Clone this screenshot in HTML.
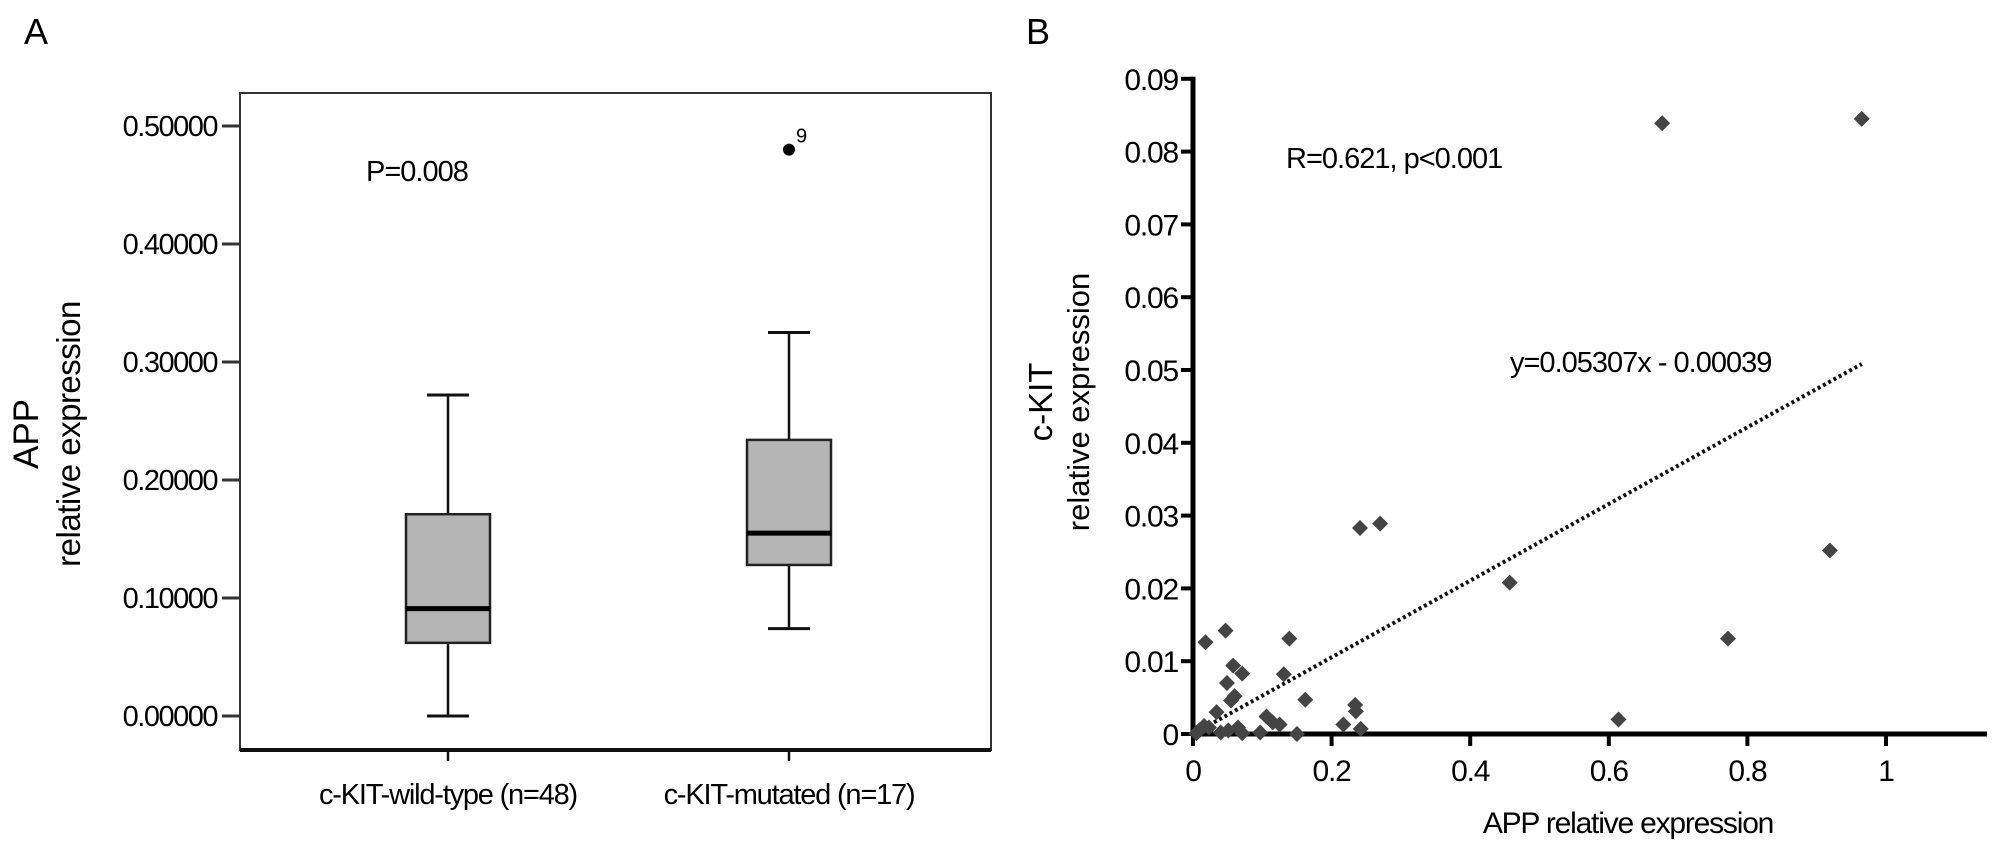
<!DOCTYPE html>
<html><head><meta charset="utf-8"><style>
html,body{margin:0;padding:0;background:#fff}
svg{display:block;font-family:"Liberation Sans",Arial,sans-serif}
</style></head><body>
<svg id="fig" width="2008" height="851" viewBox="0 0 2008 851">
<text x="24" y="44" font-size="36">A</text>
<text x="1026" y="44" font-size="36">B</text>
<g id="boxplot"></g>
<g id="scatter"></g>
</svg>
<script>
// ---- Box plot data ----
const boxCategories = ["c-KIT-wild-type (n=48)", "c-KIT-mutated (n=17)"];
const boxMin = [0.0, 0.074];
const boxQ1 = [0.062, 0.128];
const boxMedian = [0.091, 0.155];
const boxQ3 = [0.171, 0.234];
const boxMax = [0.272, 0.325];
const outlierValues = [0.48];
const outlierGroup = [1];
const outlierLabels = ["9"];
const boxYTicks = [0, 0.1, 0.2, 0.3, 0.4, 0.5];
const boxYTickLabels = ["0.00000","0.10000","0.20000","0.30000","0.40000","0.50000"];

// ---- Scatter data ----
const scatterX = [0.677,0.965,0.241,0.270,0.457,0.919,0.772,0.614,0.018,0.047,0.139,0.058,0.071,0.049,0.060,0.055,0.131,0.162,0.034,0.106,0.125,0.115,0.234,0.235,0.217,0.242,0.097,0.150,0.009,0.023,0.040,0.051,0.005,0.065,0.071,0.016];
const scatterY = [0.0839,0.0845,0.0283,0.0289,0.0208,0.0252,0.0131,0.0020,0.0126,0.0142,0.0131,0.0094,0.0083,0.0070,0.0052,0.0046,0.0082,0.0047,0.0030,0.0024,0.0013,0.0016,0.0040,0.0031,0.0013,0.0007,0.0002,0.0000,0.0005,0.0009,0.0002,0.0005,0.0001,0.0009,0.0001,0.0011];
const scatterXTicks = [0, 0.2, 0.4, 0.6, 0.8, 1];
const scatterXTickLabels = ["0","0.2","0.4","0.6","0.8","1"];
const scatterYTicks = [0,0.01,0.02,0.03,0.04,0.05,0.06,0.07,0.08,0.09];
const scatterYTickLabels = ["0","0.01","0.02","0.03","0.04","0.05","0.06","0.07","0.08","0.09"];
const trendSlope = [0.05307];
const trendIntercept = [-0.00039];
const trendRange = [0.0, 0.965];

const NS = "http://www.w3.org/2000/svg";
function mk(parent, tag, attrs, text){
  const e = document.createElementNS(NS, tag);
  for (const k in attrs) e.setAttribute(k, attrs[k]);
  if (text !== undefined) e.textContent = text;
  parent.appendChild(e);
  return e;
}

// ---------- Box plot ----------
(function(){
  const g = document.getElementById('boxplot');
  const L = 240, R = 991, T = 93, B = 750;
  const y = v => 716 - v * 1180;
  const xc = [448, 789];
  const bw = 84, cw = 42;
  let e;
  e = mk(g,'rect',{x:L,y:T,width:R-L,height:B-T,fill:'none',stroke:'#333','stroke-width':2});
  
  
  e = mk(g,'line',{x1:L,y1:B,x2:R,y2:B,stroke:'#111','stroke-width':4});
  
  
  boxYTicks.forEach((t,i)=>{
    const yy = y(t);
    e = mk(g,'line',{x1:L-18,y1:yy,x2:L,y2:yy,stroke:'#333','stroke-width':3});
    
    
    e = mk(g,'text',{x:217,y:yy+10,'font-size':29,'text-anchor':'end','letter-spacing':-1.5},boxYTickLabels[i]);
    
    
  });
  boxCategories.forEach((c,i)=>{
    const x = xc[i];
    e = mk(g,'line',{x1:x,y1:y(boxMin[i]),x2:x,y2:y(boxMax[i]),stroke:'#111','stroke-width':2.5});
    
    
    [boxMin[i],boxMax[i]].forEach(v=>{
      e = mk(g,'line',{x1:x-cw/2,y1:y(v),x2:x+cw/2,y2:y(v),stroke:'#111','stroke-width':3});
      
      
    });
    e = mk(g,'rect',{x:x-bw/2,y:y(boxQ3[i]),width:bw,height:y(boxQ1[i])-y(boxQ3[i]),fill:'#b5b5b5',stroke:'#222','stroke-width':2.5});
    
    
    e = mk(g,'line',{x1:x-bw/2,y1:y(boxMedian[i]),x2:x+bw/2,y2:y(boxMedian[i]),stroke:'#000','stroke-width':5});
    
    
    e = mk(g,'line',{x1:x,y1:B,x2:x,y2:B+11,stroke:'#111','stroke-width':2.5});
    
    
    e = mk(g,'text',{x:x,y:804,'font-size':29,'text-anchor':'middle','letter-spacing':-1.2},c);
    
    
  });
  outlierValues.forEach((v,i)=>{
    const x = xc[outlierGroup[i]];
    e = mk(g,'circle',{cx:x,cy:y(v),r:6,fill:'#000'});
    
    
    e = mk(g,'text',{x:x+7,y:y(v)-7,'font-size':20},outlierLabels[i]);
    
    
  });
  e = mk(g,'text',{x:366,y:181,'font-size':29,'letter-spacing':-1},'P=0.008');
  
  
  e = mk(g,'text',{transform:'translate(38,434) rotate(-90)','font-size':35,'text-anchor':'middle'},'APP');
  
  
  e = mk(g,'text',{transform:'translate(80,434) rotate(-90)','font-size':33,'text-anchor':'middle','letter-spacing':-0.5},'relative expression');
  
  
})();

// ---------- Scatter ----------
(function(){
  const g = document.getElementById('scatter');
  const x0 = 1193, y0 = 734;
  const x = v => x0 + v * 693;
  const y = v => y0 - v * 7280;
  let e;
  e = mk(g,'line',{x1:x0,y1:y(0.09)-2,x2:x0,y2:y0+2,stroke:'#000','stroke-width':5});
  
  
  e = mk(g,'line',{x1:x0-2,y1:y0,x2:1987,y2:y0,stroke:'#000','stroke-width':5});
  
  
  scatterYTicks.forEach((t,i)=>{
    e = mk(g,'line',{x1:x0-12,y1:y(t),x2:x0,y2:y(t),stroke:'#000','stroke-width':4});
    
    
    e = mk(g,'text',{x:1178,y:y(t)+11,'font-size':30,'text-anchor':'end','letter-spacing':-1.2},scatterYTickLabels[i]);
    
    
  });
  scatterXTicks.forEach((t,i)=>{
    e = mk(g,'line',{x1:x(t),y1:y0,x2:x(t),y2:y0+12,stroke:'#000','stroke-width':4});
    
    
    e = mk(g,'text',{x:x(t),y:781,'font-size':30,'text-anchor':'middle','letter-spacing':-1.2},scatterXTickLabels[i]);
    
    
  });
  const ty = v => trendSlope[0]*v + trendIntercept[0];
  e = mk(g,'line',{x1:x(trendRange[0]),y1:y(Math.max(0,ty(trendRange[0]))),x2:x(trendRange[1]),y2:y(ty(trendRange[1])),stroke:'#111','stroke-width':4,'stroke-dasharray':'3 3'});
  
  
  scatterX.forEach((v,i)=>{
    const cx = x(v), cy = y(scatterY[i]), s = 8;
    e = mk(g,'polygon',{points:`${cx},${cy-s} ${cx+s},${cy} ${cx},${cy+s} ${cx-s},${cy}`,fill:'#444'});
    
    
  });
  e = mk(g,'text',{x:1286,y:168,'font-size':29,'letter-spacing':-1},'R=0.621, p<0.001');
  
  
  e = mk(g,'text',{x:1510,y:372,'font-size':29,'letter-spacing':-1},'y=0.05307x - 0.00039');
  
  
  e = mk(g,'text',{x:1628,y:833,'font-size':30,'text-anchor':'middle','letter-spacing':-1.2},'APP relative expression');
  
  
  e = mk(g,'text',{transform:'translate(1052,402) rotate(-90)','font-size':33,'text-anchor':'middle'},'c-KIT');
  
  
  e = mk(g,'text',{transform:'translate(1089,402) rotate(-90)','font-size':31,'text-anchor':'middle'},'relative expression');
  
  
})();
</script>
</body></html>
